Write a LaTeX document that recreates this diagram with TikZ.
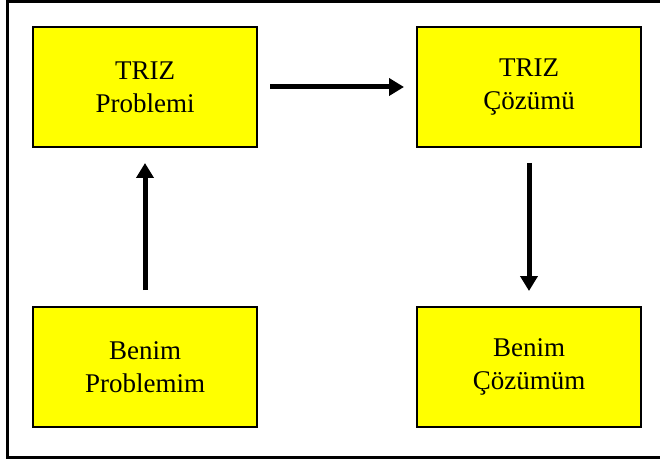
\documentclass[tikz,border=0pt]{standalone}
\usepackage{fontspec}
\setmainfont{Liberation Serif}
\usepackage{tikz}
\usetikzlibrary{positioning, arrows.meta}
\definecolor{boxyellow}{RGB}{255,255,0}

\begin{document}
\begin{tikzpicture}[
  x=1pt, y=1pt,
  node distance=160pt and 160pt,
  stepbox/.style={rectangle, draw, line width=2.5pt, fill=boxyellow,
                  align=center, font=\fontsize{27}{33}\selectfont,
                  minimum width=224pt, minimum height=120pt,
                  inner sep=2pt, outer sep=0pt},
  arr/.style={-{Triangle[length=15pt, width=17pt]}, line width=5pt}
]
\useasboundingbox (0,0) rectangle (660,461);
% outer frame
\draw[line width=3pt] (7,459.5) rectangle (668,4);

\node[stepbox] (TP) at (145,374) {TRIZ\\Problemi};
\node[stepbox, right=of TP] (TC) {TRIZ\\Çözümü};
\node[stepbox, below=of TP] (BP) {Benim\\Problemim};
\node[stepbox, below=of TC] (BC) {Benim\\Çözümüm};

\draw[arr, shorten <=13pt, shorten >=13pt] (TP) -- (TC);
\draw[arr, shorten <=17pt, shorten >=16pt] (BP) -- (TP);
\draw[arr, shorten <=16pt, shorten >=16pt] (TC) -- (BC);
\end{tikzpicture}
\end{document}
